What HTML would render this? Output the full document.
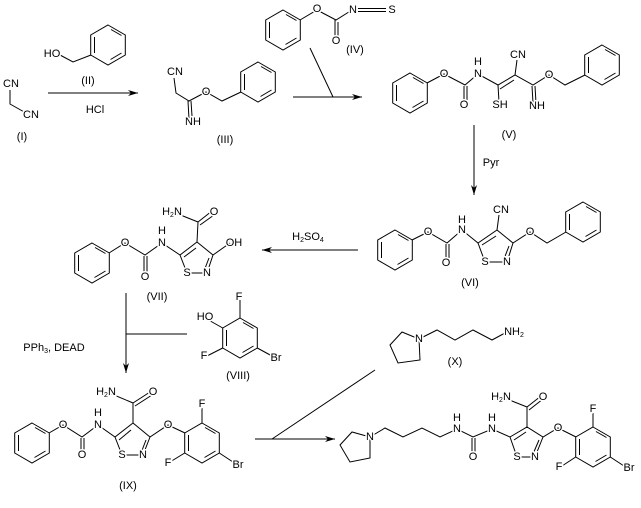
<!DOCTYPE html>
<html><head><meta charset="utf-8"><style>
html,body{margin:0;padding:0;background:#fff;}
svg{display:block;}
text{font-family:"Liberation Sans",sans-serif;font-size:11px;fill:#000;stroke:#fff;stroke-width:3px;paint-order:stroke;text-anchor:middle;dominant-baseline:central;}
.l{stroke:none;}
line,polyline,polygon{stroke:#000;stroke-width:1;fill:none;}
</style></head><body>
<svg width="641" height="508" viewBox="0 0 641 508" xmlns="http://www.w3.org/2000/svg">
<defs>
<g id="bz">
<polygon points="0,-20 17.3,-10 17.3,10 0,20 -17.3,10 -17.3,-10"/>
<line x1="3" y1="-15.5" x2="13.5" y2="-9.5"/>
<line x1="13.5" y1="8" x2="2.5" y2="14.5"/>
<line x1="-13.5" y1="8" x2="-13.5" y2="-8"/>
</g>
<marker id="ah" viewBox="0 0 10 6" refX="10" refY="3" markerWidth="10" markerHeight="6" orient="auto" markerUnits="userSpaceOnUse"><path d="M0,0 L10,3 L0,6 L3,3 z" fill="#000"/></marker>
</defs>

<!-- I -->
<polyline points="10,90 10,104 26,113"/>
<text x="11" y="84">CN</text><text x="31" y="115">CN</text>
<text class="l" x="22" y="137">(I)</text>
<!-- II -->
<use href="#bz" x="108" y="45"/>
<polyline points="60,55 73,62 91,55"/>
<text x="52" y="54">HO</text>
<text class="l" x="88" y="81">(II)</text>
<line x1="48" y1="93" x2="138" y2="93" marker-end="url(#ah)"/>
<text class="l" x="95" y="110">HCl</text>
<!-- III -->
<use href="#bz" x="258" y="82"/>
<polyline points="174,78 176,93 189,101 206,92 222,101 241,92"/>
<line x1="188" y1="101" x2="189" y2="119"/><line x1="191" y1="101" x2="192" y2="116"/>
<text x="175" y="72">CN</text><text x="193" y="122">NH</text><text x="206" y="92">O</text>
<text class="l" x="225" y="140">(III)</text>
<!-- IV -->
<use href="#bz" x="283" y="30"/>
<polyline points="300,20 317,10 336,20 352,10"/>
<line x1="335" y1="20" x2="335" y2="38"/><line x1="338" y1="22" x2="338" y2="38"/>
<line x1="358" y1="8.5" x2="386" y2="8.5"/><line x1="358" y1="11.5" x2="386" y2="11.5"/>
<text x="317" y="9">O</text><text x="336" y="41">O</text><text x="353" y="10">N</text><text x="392" y="10">S</text>
<text class="l" x="355" y="50">(IV)</text>
<line x1="293" y1="97" x2="362" y2="97" marker-end="url(#ah)"/>
<line x1="310" y1="48" x2="333" y2="97"/>
<!-- V -->
<use href="#bz" x="410" y="93"/>
<use href="#bz" x="602" y="65"/>
<polyline points="427,83 444,74 465,85 478,74 498,85 515,75 533,85 549,75 565,85 585,75"/>
<line x1="464" y1="86" x2="464" y2="102"/><line x1="467" y1="86" x2="467" y2="102"/>
<line x1="500" y1="89" x2="514" y2="80"/>
<line x1="498" y1="85" x2="499" y2="102"/>
<line x1="515" y1="75" x2="517" y2="60"/>
<line x1="532" y1="86" x2="533" y2="103"/><line x1="535" y1="86" x2="536" y2="103"/>
<text x="444" y="74">O</text><text x="464" y="105">O</text><text x="478" y="74">N</text><text x="478" y="62">H</text>
<text x="500" y="105">SH</text><text x="518" y="55">CN</text><text x="537" y="106">NH</text><text x="549" y="75">O</text>
<text class="l" x="509" y="135">(V)</text>
<line x1="474" y1="125" x2="474" y2="195" marker-end="url(#ah)"/>
<text class="l" x="491" y="163">Pyr</text>
<!-- VI -->
<use href="#bz" x="395" y="250"/>
<use href="#bz" x="583" y="222"/>
<polyline points="412,240 428,232 447,243 462,230 478,243 497,230 513,243 530,232 547,243 566,232"/>
<polyline points="478,243 485,262 507,262 513,243"/>
<line x1="446" y1="244" x2="446" y2="260"/><line x1="449" y1="244" x2="449" y2="260"/>
<line x1="482" y1="245" x2="496" y2="236"/><line x1="509" y1="246" x2="504" y2="259"/>
<line x1="497" y1="230" x2="499" y2="215"/>
<text x="428" y="232">O</text><text x="446" y="263">O</text><text x="462" y="230">N</text><text x="462" y="220">H</text>
<text x="485" y="262">S</text><text x="507" y="262">N</text><text x="501" y="210">CN</text><text x="530" y="232">O</text>
<text class="l" x="470" y="283">(VI)</text>
<line x1="358" y1="250" x2="262" y2="250" marker-end="url(#ah)"/>
<text class="l" x="308" y="237">H<tspan font-size="7" dy="3">2</tspan><tspan dy="-3">SO</tspan><tspan font-size="7" dy="3">4</tspan></text>
<!-- VII -->
<use href="#bz" x="92" y="263"/>
<polyline points="109,253 125,243 145,255 162,243 180,255 197,242 213,255 230,243"/>
<polyline points="180,255 187,273 207,273 213,255"/>
<line x1="144" y1="256" x2="144" y2="272"/><line x1="147" y1="256" x2="147" y2="272"/>
<line x1="184" y1="257" x2="196" y2="248"/><line x1="209" y1="258" x2="204" y2="271"/>
<polyline points="173,212 198,222 197,242"/>
<line x1="198" y1="222" x2="212" y2="211"/><line x1="200" y1="225" x2="214" y2="215"/>
<text x="125" y="243">O</text><text x="145" y="277">O</text><text x="162" y="243">N</text><text x="162" y="231">H</text>
<text x="187" y="273">S</text><text x="207" y="273">N</text><text x="234" y="243">OH</text>
<text x="172" y="212">H<tspan font-size="7" dy="3">2</tspan><tspan dy="-3">N</tspan></text><text x="214" y="212">O</text>
<text class="l" x="157" y="297">(VII)</text>
<line x1="126" y1="293" x2="126" y2="373" marker-end="url(#ah)"/>
<line x1="126" y1="334" x2="187" y2="334"/>
<text class="l" x="54" y="348">PPh<tspan font-size="7" dy="3">3</tspan><tspan dy="-3">,  DEAD</tspan></text>
<!-- VIII -->
<use href="#bz" x="240" y="338"/>
<line x1="222.7" y1="328" x2="205" y2="318"/>
<line x1="240" y1="318" x2="240" y2="300"/>
<line x1="222.7" y1="348" x2="207" y2="356"/>
<line x1="257.3" y1="348" x2="272" y2="356"/>
<text x="205" y="317">HO</text><text x="239" y="297">F</text><text x="204" y="356">F</text><text x="276" y="358">Br</text>
<text class="l" x="238" y="376">(VIII)</text>
<!-- IX -->
<use href="#bz" x="32" y="443"/>
<use href="#bz" x="202" y="443"/>
<polyline points="49,433 63,425 82,437 98,425 115,437 133,423 150,437 168,425 185,433"/>
<polyline points="115,437 122,455 143,455 150,437"/>
<line x1="81" y1="438" x2="81" y2="453"/><line x1="84" y1="438" x2="84" y2="453"/>
<line x1="119" y1="440" x2="131" y2="430"/><line x1="146" y1="440" x2="141" y2="453"/>
<polyline points="107,392 133,403 133,423"/>
<line x1="133" y1="403" x2="150" y2="392"/><line x1="135" y1="406" x2="152" y2="395"/>
<line x1="202" y1="423" x2="202" y2="408"/><line x1="184.7" y1="453" x2="170" y2="462"/><line x1="219.3" y1="453" x2="233" y2="462"/>
<text x="63" y="425">O</text><text x="82" y="455">O</text><text x="98" y="425">N</text><text x="98" y="413">H</text>
<text x="122" y="455">S</text><text x="143" y="455">N</text><text x="168" y="425">O</text>
<text x="106" y="392">H<tspan font-size="7" dy="3">2</tspan><tspan dy="-3">N</tspan></text><text x="153" y="392">O</text>
<text x="202" y="404">F</text><text x="168" y="463">F</text><text x="238" y="465">Br</text>
<text class="l" x="128" y="486">(IX)</text>
<!-- X -->
<polygon points="390,345 402,332 419,339 420,360 398,363"/>
<polyline points="419,339 437,330 455,340 473,330 492,340 505,333"/>
<text x="419" y="339">N</text>
<text x="514" y="332">NH<tspan font-size="7" dy="3">2</tspan></text>
<text class="l" x="455" y="362">(X)</text>
<line x1="255" y1="439" x2="335" y2="439" marker-end="url(#ah)"/>
<line x1="272" y1="439" x2="375" y2="370"/>
<!-- Product -->
<polygon points="340,445 352,432 370,437 370,458 350,462"/>
<use href="#bz" x="593" y="447"/>
<polyline points="370,437 385,428 403,437 422,428 440,437 457,429 473,437 492,429 510,437 527,427 543,437 558,428 576,437"/>
<polyline points="510,437 517,457 535,457 543,437"/>
<line x1="472" y1="438" x2="472" y2="454"/><line x1="475" y1="438" x2="475" y2="454"/>
<line x1="514" y1="440" x2="526" y2="432"/><line x1="539" y1="440" x2="533" y2="454"/>
<polyline points="502,397 527,407 527,427"/>
<line x1="527" y1="407" x2="541" y2="396"/><line x1="529" y1="410" x2="543" y2="399"/>
<line x1="593" y1="427" x2="593" y2="413"/><line x1="575.7" y1="457" x2="562" y2="466"/><line x1="610.3" y1="457" x2="624" y2="466"/>
<text x="370" y="437">N</text>
<text x="457" y="429">N</text><text x="457" y="418">H</text><text x="473" y="457">O</text>
<text x="492" y="429">N</text><text x="492" y="418">H</text>
<text x="517" y="457">S</text><text x="535" y="457">N</text><text x="558" y="428">O</text>
<text x="501" y="397">H<tspan font-size="7" dy="3">2</tspan><tspan dy="-3">N</tspan></text><text x="543" y="397">O</text>
<text x="593" y="409">F</text><text x="559" y="467">F</text><text x="629" y="468">Br</text>
</svg>
</body></html>
